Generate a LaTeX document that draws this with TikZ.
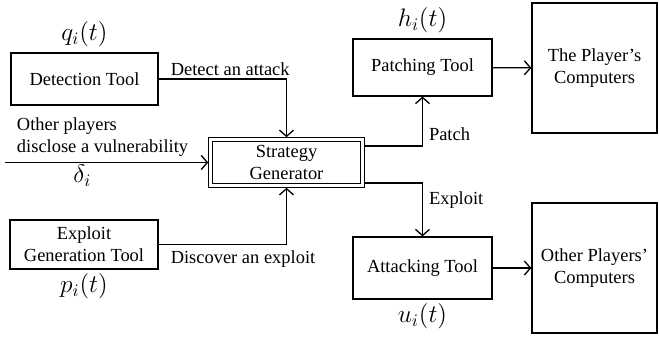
\documentclass[tikz,border=0pt]{standalone}
\usepackage{fontspec}
\setmainfont{Liberation Serif}
\usetikzlibrary{positioning,arrows.meta}
\tikzset{
  tool/.style={draw, line width=0.7pt, align=center, inner sep=2pt},
  bigbox/.style={tool, minimum width=2.5cm, minimum height=2.6cm},
  sgbox/.style={draw, line width=0.6pt, double, double distance=1.4pt,
    outer sep=1.3pt, align=center, minimum width=3.04cm, minimum height=0.92cm},
  flow/.style={line width=0.75pt},
  mlab/.style={font=\Large, inner sep=1pt}
}

\begin{document}
\begin{tikzpicture}[x=0.02cm, y=-0.02cm, >={Straight Barb[length=3.5pt,width=8pt]},
  font=\fontsize{10.5}{12.5}\selectfont]
\useasboundingbox (0,0) rectangle (659,339);

\node[tool, minimum width=2.94cm, minimum height=1.04cm] (det-tool) at (84.5,79) {Detection Tool};
\node[tool, minimum width=2.96cm, minimum height=0.98cm] (exp-tool) at (84,244.5) {Exploit\\Generation Tool};
\node[sgbox] (sg) at (286.5,162.5) {Strategy\\Generator};
\node[tool, minimum width=2.78cm, minimum height=1.14cm] (patch-tool) at (422.5,67.5) {Patching Tool};
\node[tool, minimum width=2.78cm, minimum height=1.24cm] (att-tool) at (422.5,268) {Attacking Tool};
\node[bigbox] (own-pc) at (594.5,68) {The Player’s\\Computers};
\node[bigbox] (other-pc) at (594.5,268) {Other Players’\\Computers};

\node[mlab] (q-lab) [above=2pt of det-tool] {$q_i(t)$};
\node[mlab] (p-lab) [below=1pt of exp-tool] {$p_i(t)$};
\node[mlab] (h-lab) [above=2pt of patch-tool] {$h_i(t)$};
\node[mlab] (u-lab) [below=1pt of att-tool] {$u_i(t)$};

\coordinate (vuln-in) at (5,162.5);
\draw[flow,->] (vuln-in) -- node[above, align=left, pos=0.48] {Other players\\disclose a vulnerability}
  node[mlab, below, pos=0.38] {$\delta_i$} (sg.west);
\draw[flow,->] (det-tool.east) -| node[above, pos=0.28, inner sep=1.5pt] {Detect an attack} (sg.north);
\draw[flow,->] (exp-tool.east) -| node[below, pos=0.33] {Discover an exploit} (sg.south);
\draw[flow,->] ([yshift=0.33cm]sg.east) -| node[right, pos=0.62] {Patch} (patch-tool.south);
\draw[flow,->] ([yshift=-0.41cm]sg.east) -| node[right, pos=0.66] {Exploit} (att-tool.north);
\draw[flow,->] (patch-tool) -- (own-pc);
\draw[flow,->] (att-tool) -- (other-pc);
\end{tikzpicture}
\end{document}
